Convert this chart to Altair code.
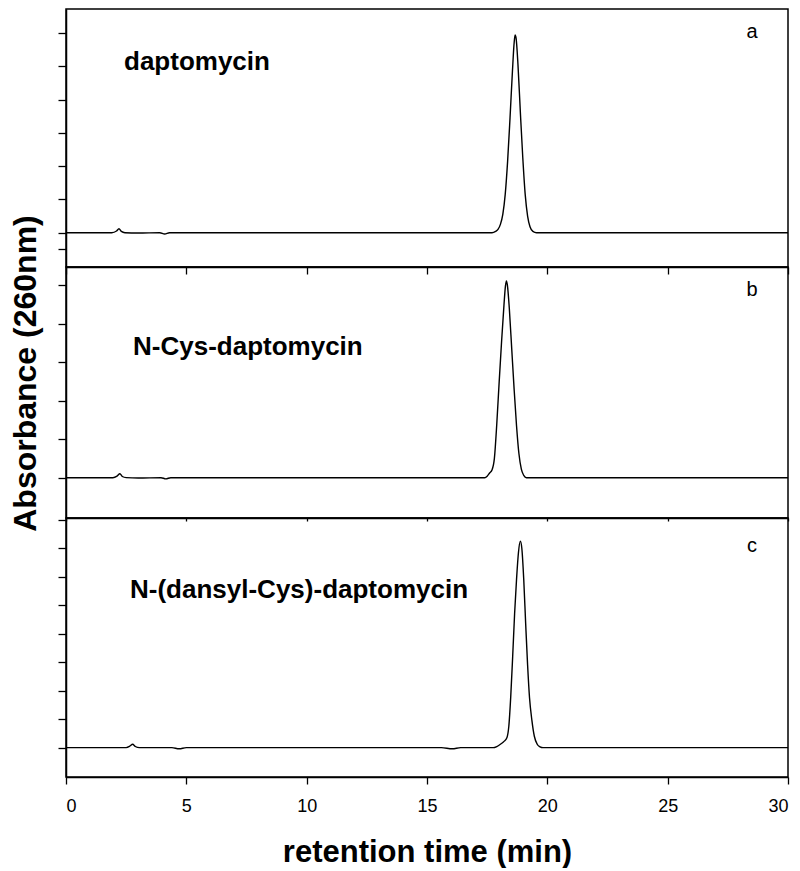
import altair as alt
import pandas as pd

# ---------------- data ----------------
X_TICKS = [0, 5, 10, 15, 20, 25, 30]

# panel a : daptomycin
TIME_A = [0, 1.9, 2.1, 2.2, 2.3, 2.45, 3.0, 3.9, 4.1, 4.3, 5.0, 10.0, 15.0, 17.70,
          17.85, 17.95, 18.05, 18.15, 18.25, 18.35, 18.45, 18.55, 18.62, 18.66, 18.70,
          18.78, 18.88, 18.98, 19.08, 19.18, 19.28, 19.40, 19.55, 25.0, 30.0]
ABS_A = [0, 0, 0.05, 0.12, 0.04, 0, -0.01, 0, -0.04, 0, 0, 0, 0, 0,
         0.04, 0.10, 0.25, 0.55, 1.15, 2.15, 3.45, 4.85, 5.70, 5.94, 5.85,
         5.05, 3.60, 2.25, 1.15, 0.50, 0.18, 0.04, 0, 0, 0]

# panel b : N-Cys-daptomycin
TIME_B = [0, 1.95, 2.12, 2.24, 2.34, 2.5, 3.0, 3.95, 4.15, 4.35, 5.0, 10.0, 15.0, 17.40,
          17.50, 17.60, 17.70, 17.80, 17.90, 18.00, 18.10, 18.20, 18.26, 18.30, 18.34,
          18.42, 18.52, 18.62, 18.72, 18.82, 18.92, 19.02, 19.13, 25.0, 30.0]
ABS_B = [0, 0, 0.04, 0.10, 0.03, 0, -0.01, 0, -0.03, 0, 0, 0, 0, 0,
         0.04, 0.12, 0.20, 0.50, 1.40, 2.50, 3.55, 4.50, 4.98, 5.11, 5.00,
         4.40, 3.35, 2.30, 1.35, 0.62, 0.22, 0.06, 0, 0, 0]

# panel c : N-(dansyl-Cys)-daptomycin
TIME_C = [0, 2.5, 2.65, 2.77, 2.88, 3.05, 4.4, 4.7, 5.0, 10.0, 15.6, 16.05, 16.4, 17.75,
          17.90, 18.05, 18.20, 18.32, 18.40, 18.48, 18.56, 18.64, 18.72, 18.80, 18.88,
          18.94, 19.02, 19.10, 19.18, 19.26, 19.36, 19.46, 19.58, 19.70, 19.82, 25.0, 30.0]
ABS_C = [0, 0, 0.05, 0.12, 0.04, 0, 0, -0.04, 0, 0, 0, -0.04, 0, 0,
         0.04, 0.12, 0.22, 0.35, 0.75, 1.80, 3.20, 4.70, 5.90, 6.85, 7.25,
         7.00, 5.90, 4.35, 2.90, 1.75, 0.95, 0.40, 0.12, 0.03, 0, 0, 0]

COMPOUNDS = ["daptomycin", "N-Cys-daptomycin", "N-(dansyl-Cys)-daptomycin"]
LETTERS = ["a", "b", "c"]
Y_TICKS_A = [-0.5, 0, 1, 2, 3, 4, 5, 6]
Y_TICKS_B = [0, 1, 2, 3, 4, 5]
Y_TICKS_C = [0, 1, 2, 3, 4, 5, 6, 7, 8]

FONT = "Liberation Sans"
W = 722


def panel(times, values, ydom, h, name, letter, name_xy, letter_xy, xaxis, yaxis):
    df = pd.DataFrame({"t": times, "v": values})
    line = alt.Chart(df).mark_line(color="black", strokeWidth=1.4,
                                   interpolate="monotone").encode(
        x=alt.X("t:Q", scale=alt.Scale(domain=[0, 30], nice=False, zero=False), axis=xaxis),
        y=alt.Y("v:Q", scale=alt.Scale(domain=ydom, nice=False, zero=False), axis=yaxis),
    )
    lab = alt.Chart(pd.DataFrame({"s": [name]})).mark_text(
        align="left", baseline="alphabetic", fontSize=26, fontWeight="bold",
        font=FONT, color="black").encode(
        x=alt.value(name_xy[0]), y=alt.value(name_xy[1]), text="s:N")
    let = alt.Chart(pd.DataFrame({"s": [letter]})).mark_text(
        align="center", baseline="alphabetic", fontSize=20,
        font=FONT, color="black").encode(
        x=alt.value(letter_xy[0]), y=alt.value(letter_xy[1]), text="s:N")
    return alt.layer(line, lab, let).properties(width=W, height=h)


def xax(size, labels=False, title=None):
    kw = dict(values=X_TICKS, labels=labels, tickSize=size, grid=False,
              domainColor="black", tickColor="black", tickWidth=1.3, domainWidth=1.5)
    if labels:
        kw.update(format="d", labelFontSize=18, labelFont=FONT, labelColor="black",
                  labelPadding=13)
    if title:
        kw.update(title=title, titleFontSize=31, titleFont=FONT, titleFontWeight="bold",
                  titleColor="black", titlePadding=22)
    else:
        kw.update(title=None)
    return alt.Axis(**kw)


def yax(vals, title=None):
    kw = dict(values=vals, labels=False, tickSize=8, grid=False,
              domainColor="black", tickColor="black", tickWidth=1.3, domainWidth=1.5)
    if title:
        kw.update(title=title, titleFontSize=32, titleFont=FONT, titleFontWeight="bold",
                  titleColor="black", titleX=-41, titleY=106, titleAngle=270,
                  titleAlign="center", titleBaseline="middle")
    else:
        kw.update(title=None)
    return alt.Axis(**kw)


pa = panel(TIME_A, ABS_A, [-1.03, 6.72], 258, COMPOUNDS[0], LETTERS[0],
           (58, 61), (686, 29), xax(7), yax(Y_TICKS_A))
pb = panel(TIME_B, ABS_B, [-1.047, 5.47], 251, COMPOUNDS[1], LETTERS[1],
           (67, 88), (686, 29), xax(3), yax(Y_TICKS_B, "Absorbance (260nm)"))
pc = panel(TIME_C, ABS_C, [-1.03, 8.06], 259, COMPOUNDS[2], LETTERS[2],
           (64, 80), (686, 34), xax(7, labels=True, title="retention time (min)"),
           yax(Y_TICKS_C))

chart = alt.vconcat(pa, pb, pc, spacing=0, bounds="flush", background="white").properties(
    padding={"left": 0, "top": 0, "right": 0, "bottom": 0}
).configure_view(stroke="#000000", strokeWidth=1.5, strokeOpacity=1)

chart.save("out.html", embed_options={"renderer": "svg", "actions": False})
